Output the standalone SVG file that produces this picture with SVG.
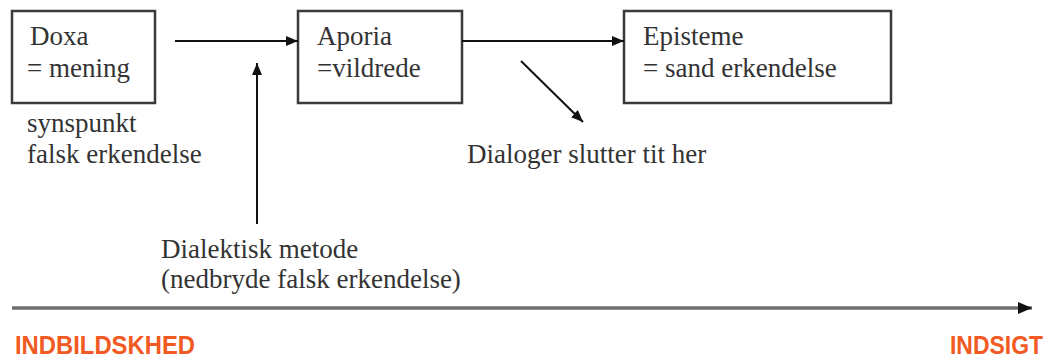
<svg xmlns="http://www.w3.org/2000/svg" width="1052" height="358" viewBox="0 0 1052 358">
<defs>
<style>
.box{fill:#fff;stroke:#3a3a3a;stroke-width:2.5}
.t{font-family:'Liberation Serif','Times New Roman','DejaVu Serif',Times,serif;font-size:27px;fill:#333}
.c{stroke:#111;stroke-width:2;fill:none;marker-end:url(#ah)}
.axis{stroke:#6e6e6e;stroke-width:3.5;fill:none;marker-end:url(#ah2)}
.o{font-family:'Liberation Sans',Arial,sans-serif;font-weight:bold;font-size:25px;fill:#F15A22}
</style>
<marker id="ah" viewBox="0 0 12 10" refX="12" refY="5" markerWidth="12" markerHeight="10" markerUnits="userSpaceOnUse" orient="auto">
<path d="M0,0 L12,5 L0,10 Z" fill="#111"/>
</marker>
<marker id="ah2" viewBox="0 0 14 12" refX="14" refY="6" markerWidth="14" markerHeight="12" markerUnits="userSpaceOnUse" orient="auto">
<path d="M0,0 L14,6 L0,12 Z" fill="#111"/>
</marker>
</defs>
<rect width="1052" height="358" fill="#fff"/>
<g id="doxa">
<rect class="box" x="12" y="11" width="143" height="92"/>
<text class="t" font-family="Liberation Serif, serif" x="30" y="45">Doxa</text>
<text class="t" font-family="Liberation Serif, serif" x="27" y="77">= mening</text>
</g>
<g id="aporia">
<rect class="box" x="298" y="11" width="164" height="92"/>
<text class="t" font-family="Liberation Serif, serif" x="317" y="45">Aporia</text>
<text class="t" font-family="Liberation Serif, serif" x="317" y="77">=vildrede</text>
</g>
<g id="episteme">
<rect class="box" x="624" y="11" width="267" height="92"/>
<text class="t" font-family="Liberation Serif, serif" x="643" y="45">Episteme</text>
<text class="t" font-family="Liberation Serif, serif" x="643" y="77">= sand erkendelse</text>
</g>
<g id="doxa-note">
<text class="t" font-family="Liberation Serif, serif" x="27" y="132">synspunkt</text>
<text class="t" font-family="Liberation Serif, serif" x="27" y="163">falsk erkendelse</text>
</g>
<g id="dialoger-note">
<text class="t" font-family="Liberation Serif, serif" x="467" y="163">Dialoger slutter tit her</text>
</g>
<g id="dialektisk-note">
<text class="t" font-family="Liberation Serif, serif" x="161" y="258">Dialektisk metode</text>
<text class="t" font-family="Liberation Serif, serif" x="161" y="288">(nedbryde falsk erkendelse)</text>
</g>
<g id="connectors">
<line class="c" x1="175" y1="41" x2="298" y2="41"/>
<line class="c" x1="462" y1="41" x2="624" y2="41"/>
<line class="c" x1="257" y1="224" x2="257" y2="63"/>
<line class="c" x1="521" y1="61" x2="583" y2="122"/>
<line class="axis" x1="12" y1="308" x2="1032" y2="308"/>
</g>
<g id="axis-labels">
<text class="o" x="15" y="354" textLength="180" lengthAdjust="spacingAndGlyphs">INDBILDSKHED</text>
<text class="o" x="950" y="354" textLength="93" lengthAdjust="spacingAndGlyphs">INDSIGT</text>
</g>
</svg>
